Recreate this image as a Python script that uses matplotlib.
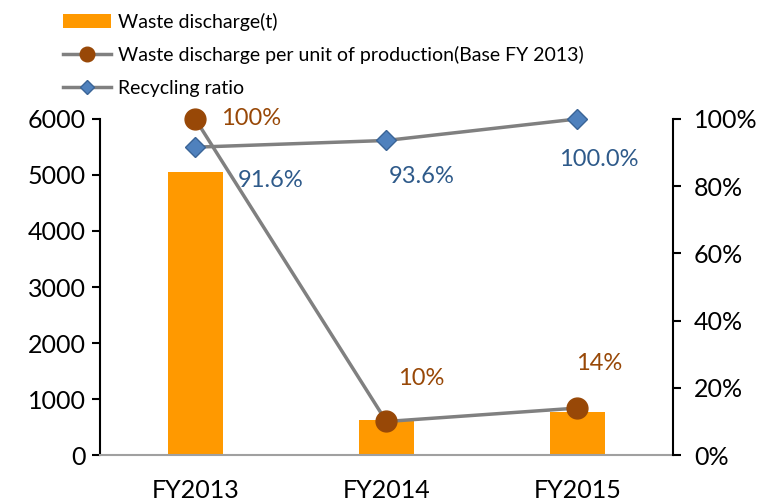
import matplotlib.pyplot as plt
from matplotlib.ticker import FuncFormatter

plt.rcParams['font.family'] = ['Lato', 'DejaVu Sans']

years = ['FY2013', 'FY2014', 'FY2015']
waste_t = [5050, 625, 770]
per_unit = [100, 10, 14]
recycling = [91.6, 93.6, 100.0]

per_unit_labels = ['100%', '10%', '14%']
recycling_labels = ['91.6%', '93.6%', '100.0%']

ORANGE = '#FF9900'
BROWN = '#984807'
BLUE = '#4F81BD'
BLUE_TXT = '#2E5A8A'
GRAY = '#808080'
FS = 18

fig = plt.figure(figsize=(7.79, 5.04), dpi=100)
ax = fig.add_axes([0.128, 0.097, 0.736, 0.667])
x = range(len(years))

bars = ax.bar(x, waste_t, width=0.29, color=ORANGE, label='Waste discharge(t)', zorder=1)
ax.set_ylim(0, 6000)
ax.set_xlim(-0.5, 2.5)
ax.set_yticks(range(0, 6001, 1000))
ax.set_xticks(list(x))
ax.set_xticklabels(years)
ax.tick_params(axis='x', length=0, pad=17, labelsize=FS)
ax.tick_params(axis='y', length=6, width=1.5, labelsize=FS, pad=4)

for s in ['top', 'right']:
    ax.spines[s].set_visible(False)
ax.spines['left'].set_linewidth(1.5)
ax.spines['bottom'].set_color('#A0A0A0')
ax.spines['bottom'].set_linewidth(1.5)

ax2 = ax.twinx()
ax2.set_ylim(0, 100)
ax2.set_yticks(range(0, 101, 20))
ax2.yaxis.set_major_formatter(FuncFormatter(lambda v, p: f'{v:.0f}%'))
ax2.tick_params(axis='y', length=6, width=1.5, labelsize=FS, pad=9)
for s in ['top', 'left', 'bottom']:
    ax2.spines[s].set_visible(False)
ax2.spines['right'].set_linewidth(1.5)

l1, = ax2.plot(x, per_unit, color=GRAY, lw=2.5, marker='o', ms=15,
               mfc=BROWN, mec=BROWN, zorder=3, clip_on=False,
               label='Waste discharge per unit of production(Base FY 2013)')
l2, = ax2.plot(x, recycling, color=GRAY, lw=2.5, marker='D', ms=10,
               mfc=BLUE, mec='#3A6496', zorder=3, clip_on=False,
               label='Recycling ratio')

# data labels (offsets in pixels)
pu_off = [(26, 0), (35, 43), (22, 45)]
pu_ha = ['left', 'center', 'center']
for i, (v, t) in enumerate(zip(per_unit, per_unit_labels)):
    ax2.annotate(t, (i, v), xytext=pu_off[i], textcoords='offset pixels',
                 color=BROWN, fontsize=FS - 1, va='center', ha=pu_ha[i])
rc_off = [(42, -33), (35, -36), (21, -41)]
rc_ha = ['left', 'center', 'center']
for i, (v, t) in enumerate(zip(recycling, recycling_labels)):
    ax2.annotate(t, (i, v), xytext=rc_off[i], textcoords='offset pixels',
                 color=BLUE_TXT, fontsize=FS - 1, va='center', ha=rc_ha[i])

fig.legend(handles=[bars, l1, l2], loc='upper left', bbox_to_anchor=(0.058, 1.01),
           frameon=False, fontsize=14, handlelength=2.5, handletextpad=0.35,
           labelspacing=0.8, markerscale=0.7)

fig.savefig('out.png', dpi=100)
